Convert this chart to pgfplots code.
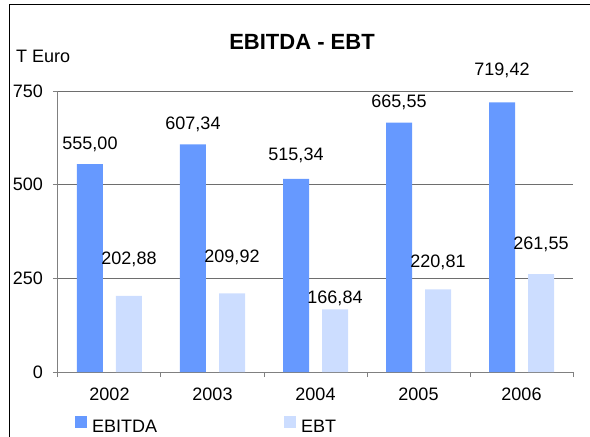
\documentclass[border=0pt]{standalone}
\usepackage{fontspec}
\setmainfont{Liberation Sans}
\usepackage{pgfplots}
\usepackage{pgfplotstable}
\pgfplotsset{compat=1.18}
\definecolor{ebitdac}{RGB}{102,153,255}
\definecolor{ebtc}{RGB}{204,221,255}
\definecolor{axisg}{RGB}{128,128,128}
\definecolor{gridg}{RGB}{110,110,110}
\pgfplotstableread{
x y lab dy
0 555.00 555,00 15
1 607.34 607,34 15
2 515.34 515,34 18
3 665.55 665,55 15
4 719.42 719,42 27
}\ebitda
\pgfplotstableread{
x y lab dy
0 202.88 202,88 31
1 209.92 209,92 31
2 166.84 166,84 6
3 220.81 220,81 22
4 261.55 261,55 25
}\ebt
\begin{document}
\begin{tikzpicture}
\useasboundingbox (-58pt,-65pt) rectangle (532pt,372pt);
\begin{axis}[
  scale only axis, width=515pt, height=281pt,
  at={(0pt,0pt)}, anchor=south west,
  clip=false,
  font=\fontsize{18}{21}\selectfont,
  /pgf/number format/assume math mode=true,
  xmin=-0.5, xmax=4.5, ymin=0, ymax=750,
  axis lines*=left,
  axis line style={-, draw=axisg, line width=1pt},
  xtick={0,1,2,3,4},
  xticklabels={2002,2003,2004,2005,2006},
  ytick={0,250,500,750},
  minor xtick={-0.5,0.5,1.5,2.5,3.5,4.5},
  minor ytick={0,250,500,750},
  major tick length=0pt,
  minor tick length=5pt,
  tick align=outside,
  tick style={draw=axisg, line width=1pt},
  ymajorgrids,
  grid style={draw=gridg, line width=1pt},
  yticklabel style={anchor=east, inner sep=0pt, xshift=-15pt},
  xticklabel style={anchor=base, inner sep=0pt, yshift=-28pt},
  ybar=13pt, bar width=26pt,
  title={EBITDA - EBT},
  title style={at={(0.4738,1.128)}, anchor=base, inner sep=0pt, font=\bfseries\fontsize{22}{26}\selectfont},
  legend columns=2,
  legend image code/.code={\draw[#1,draw=none] (0pt,-1pt) rectangle (12pt,11pt);},
  legend style={draw=none, fill=none, inner sep=0pt, at={(0.033,-0.1566)}, anchor=north west,
    nodes={inner sep=0pt},
    /tikz/every odd column/.append style={column sep=5pt},
    /tikz/every even column/.append style={column sep=127pt}},
  nodes near coords,
  point meta=explicit symbolic,
  visualization depends on={\thisrow{dy} \as \labdy},
  every node near coord/.append style={anchor=base, inner sep=0pt, yshift=\labdy pt, font=\fontsize{18}{21}\selectfont, text=black},
]
\addplot[fill=ebitdac, draw=none] table[x=x, y=y, meta=lab] {\ebitda};
\addplot[fill=ebtc, draw=none] table[x=x, y=y, meta=lab] {\ebt};
\legend{EBITDA, EBT}
\node[anchor=base west, inner sep=0pt] at (rel axis cs:-0.0816,1.103) {T Euro};
\end{axis}
\draw[line width=1pt, black] (-48pt,-66pt) -- (-48pt,367pt) -- (533pt,367pt);
\end{tikzpicture}
\end{document}
